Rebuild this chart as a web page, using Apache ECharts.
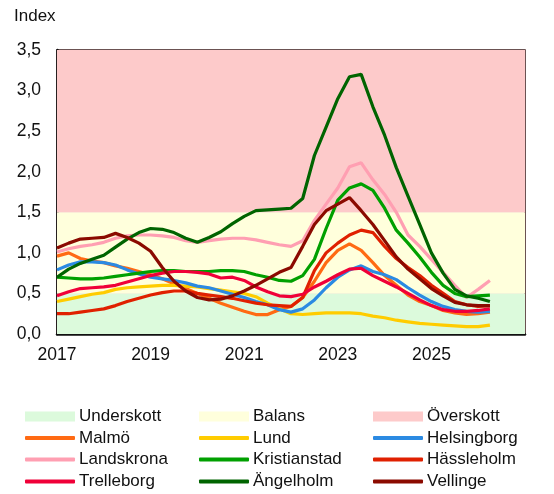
<!DOCTYPE html>
<html>
<head>
<meta charset="utf-8">
<script src="https://cdn.jsdelivr.net/npm/echarts@6/dist/echarts.min.js"></script>
<style>
  html, body { margin: 0; padding: 0; background: #fff; }
  #chart { width: 554px; height: 494px; }
</style>
</head>
<body>
<div id="chart"></div>
<script>
// kvartal, 2017 Q1 .. 2026 Q2
const quarters = [
  2017.00, 2017.25, 2017.50, 2017.75, 2018.00, 2018.25, 2018.50, 2018.75,
  2019.00, 2019.25, 2019.50, 2019.75, 2020.00, 2020.25, 2020.50, 2020.75,
  2021.00, 2021.25, 2021.50, 2021.75, 2022.00, 2022.25, 2022.50, 2022.75,
  2023.00, 2023.25, 2023.50, 2023.75, 2024.00, 2024.25, 2024.50, 2024.75,
  2025.00, 2025.25, 2025.50, 2025.75, 2026.00, 2026.25
];
const xTicks = [2017, 2019, 2021, 2023, 2025];

const malmo = [0.96, 1.00, 0.93, 0.90, 0.88, 0.84, 0.81, 0.77, 0.73, 0.68, 0.62, 0.56, 0.50, 0.44, 0.38, 0.33,
  0.28, 0.24, 0.24, 0.30, 0.34, 0.45, 0.65, 0.88, 1.03, 1.11, 1.03, 0.88, 0.72, 0.60, 0.48, 0.40,
  0.35, 0.29, 0.26, 0.24, 0.25, 0.27];
const lund = [0.40, 0.43, 0.46, 0.49, 0.51, 0.55, 0.57, 0.58, 0.59, 0.60, 0.60, 0.59, 0.58, 0.56, 0.54, 0.52,
  0.50, 0.46, 0.38, 0.31, 0.25, 0.24, 0.25, 0.26, 0.26, 0.26, 0.25, 0.22, 0.20, 0.17, 0.15, 0.13,
  0.12, 0.11, 0.10, 0.09, 0.09, 0.11];
const helsingborg = [0.79, 0.85, 0.89, 0.89, 0.88, 0.85, 0.79, 0.74, 0.70, 0.68, 0.66, 0.63, 0.59, 0.57, 0.53, 0.49,
  0.45, 0.40, 0.36, 0.30, 0.27, 0.31, 0.42, 0.57, 0.70, 0.79, 0.84, 0.77, 0.73, 0.67, 0.57, 0.48,
  0.40, 0.34, 0.30, 0.28, 0.27, 0.28];
const landskrona = [1.01, 1.05, 1.08, 1.10, 1.13, 1.18, 1.21, 1.22, 1.22, 1.21, 1.19, 1.15, 1.13, 1.15, 1.17, 1.18,
  1.18, 1.16, 1.13, 1.10, 1.08, 1.15, 1.40, 1.60, 1.80, 2.06, 2.11, 1.90, 1.72, 1.50, 1.22, 1.08,
  0.92, 0.76, 0.60, 0.45, 0.55, 0.66];
const kristianstad = [0.70, 0.69, 0.68, 0.68, 0.69, 0.71, 0.73, 0.75, 0.77, 0.78, 0.78, 0.77, 0.77, 0.77, 0.78, 0.78,
  0.77, 0.73, 0.70, 0.66, 0.65, 0.72, 0.92, 1.30, 1.65, 1.80, 1.85, 1.77, 1.55, 1.28, 1.12, 0.95,
  0.76, 0.60, 0.50, 0.46, 0.47, 0.48];
const hassleholm = [0.25, 0.25, 0.27, 0.29, 0.31, 0.35, 0.40, 0.44, 0.48, 0.51, 0.53, 0.53, 0.50, 0.48, 0.46, 0.44,
  0.41, 0.38, 0.36, 0.35, 0.34, 0.45, 0.78, 1.00, 1.12, 1.22, 1.28, 1.25, 1.08, 0.93, 0.82, 0.72,
  0.60, 0.50, 0.40, 0.36, 0.34, 0.35];
const trelleborg = [0.47, 0.52, 0.56, 0.57, 0.58, 0.60, 0.64, 0.68, 0.72, 0.75, 0.77, 0.77, 0.76, 0.74, 0.69, 0.70,
  0.66, 0.58, 0.52, 0.47, 0.46, 0.49, 0.58, 0.65, 0.73, 0.80, 0.81, 0.72, 0.65, 0.58, 0.50, 0.42,
  0.35, 0.30, 0.28, 0.28, 0.29, 0.31];
const angelholm = [0.70, 0.80, 0.87, 0.92, 0.97, 1.07, 1.17, 1.25, 1.30, 1.29, 1.25, 1.18, 1.13, 1.19, 1.26, 1.36,
  1.45, 1.52, 1.53, 1.54, 1.55, 1.67, 2.20, 2.55, 2.90, 3.17, 3.20, 2.80, 2.45, 2.05, 1.70, 1.35,
  1.00, 0.75, 0.55, 0.47, 0.44, 0.40];
const vellinge = [1.06, 1.12, 1.17, 1.18, 1.19, 1.24, 1.19, 1.12, 1.02, 0.82, 0.65, 0.53, 0.45, 0.42, 0.43, 0.47,
  0.53, 0.60, 0.68, 0.76, 0.82, 1.08, 1.35, 1.52, 1.60, 1.68, 1.52, 1.35, 1.15, 0.95, 0.80, 0.68,
  0.56, 0.47, 0.39, 0.36, 0.35, 0.35];

const bands = [
  { name: 'Underskott', from: 0, to: 0.5, color: '#dcfadc' },
  { name: 'Balans', from: 0.5, to: 1.5, color: '#ffffdc' },
  { name: 'Överskott', from: 1.5, to: 3.5, color: '#fdcaca' }
];
const lines = [
  { name: 'Malmö', data: malmo, color: '#ff6a13' },
  { name: 'Lund', data: lund, color: '#ffcc00' },
  { name: 'Helsingborg', data: helsingborg, color: '#2b8ae2' },
  { name: 'Landskrona', data: landskrona, color: '#ff9fb2' },
  { name: 'Kristianstad', data: kristianstad, color: '#00a000' },
  { name: 'Hässleholm', data: hassleholm, color: '#e02000' },
  { name: 'Trelleborg', data: trelleborg, color: '#f00038' },
  { name: 'Ängelholm', data: angelholm, color: '#006400' },
  { name: 'Vellinge', data: vellinge, color: '#8b0a00' }
];

const font = 'Liberation Sans, Arial, sans-serif';
const chart = echarts.init(document.getElementById('chart'));

let series = bands.map(b => ({
  name: b.name,
  type: 'line',
  z: -1,
  data: [],
  itemStyle: { color: b.color },
  markArea: {
    silent: true,
    itemStyle: { color: b.color },
    data: [[{ yAxis: b.from }, { yAxis: b.to }]]
  }
}));
series = series.concat(lines.map(l => ({
  name: l.name,
  type: 'line',
  symbol: 'none',
  data: quarters.map((q, i) => [q, l.data[i]]),
  itemStyle: { color: l.color },
  lineStyle: { color: l.color, width: 3.2 }
})));

// legend i rader om tre
const legendNames = [
  'Underskott', 'Balans', 'Överskott',
  'Malmö', 'Lund', 'Helsingborg',
  'Landskrona', 'Kristianstad', 'Hässleholm',
  'Trelleborg', 'Ängelholm', 'Vellinge'
];
const colLeft = [25, 199, 373];
const rowMid = [416.5, 438, 459.5, 481.5];
const legend = legendNames.map((n, i) => {
  const isBand = i < 3;
  const h = isBand ? 10 : 4;
  return {
    left: colLeft[i % 3],
    top: rowMid[Math.floor(i / 3)] - 10,
    padding: 0,
    itemWidth: 50,
    itemHeight: h,
    icon: isBand ? 'rect' : 'roundRect',
    data: [n],
    textStyle: { fontFamily: font, fontSize: 17, color: '#111', lineHeight: 20, padding: [0, 0, 0, -1] },
    selectedMode: false
  };
});

chart.setOption({
  animation: false,
  title: {
    text: 'Index',
    left: 9,
    top: 3,
    textStyle: { fontFamily: font, fontSize: 17, fontWeight: 'normal', color: '#111' }
  },
  grid: {
    left: 57, right: 29, top: 50, bottom: 160,
    show: true, borderColor: '#3b1a1a', borderWidth: 1.5
  },
  legend: legend,
  xAxis: {
    type: 'value',
    min: 2017,
    max: 2027,
    interval: 2,
    axisLine: { show: true, lineStyle: { color: '#111', width: 2.5 } },
    axisTick: { show: false },
    splitLine: { show: false },
    axisLabel: {
      showMaxLabel: false,
      margin: 12,
      fontFamily: font, fontSize: 17.5, color: '#111',
      formatter: v => xTicks.includes(v) ? String(v) : ''
    }
  },
  yAxis: {
    type: 'value',
    min: 0,
    max: 3.5,
    interval: 0.5,
    axisLine: { show: true, lineStyle: { color: '#111', width: 2.5 } },
    axisTick: { show: false },
    splitLine: { show: true, lineStyle: { color: 'rgba(120,60,60,0.18)', width: 1 } },
    axisLabel: {
      margin: 16,
      fontFamily: font, fontSize: 17.5, color: '#111',
      formatter: v => v.toFixed(1).replace('.', ',')
    }
  },
  series: series
});
</script>
</body>
</html>
